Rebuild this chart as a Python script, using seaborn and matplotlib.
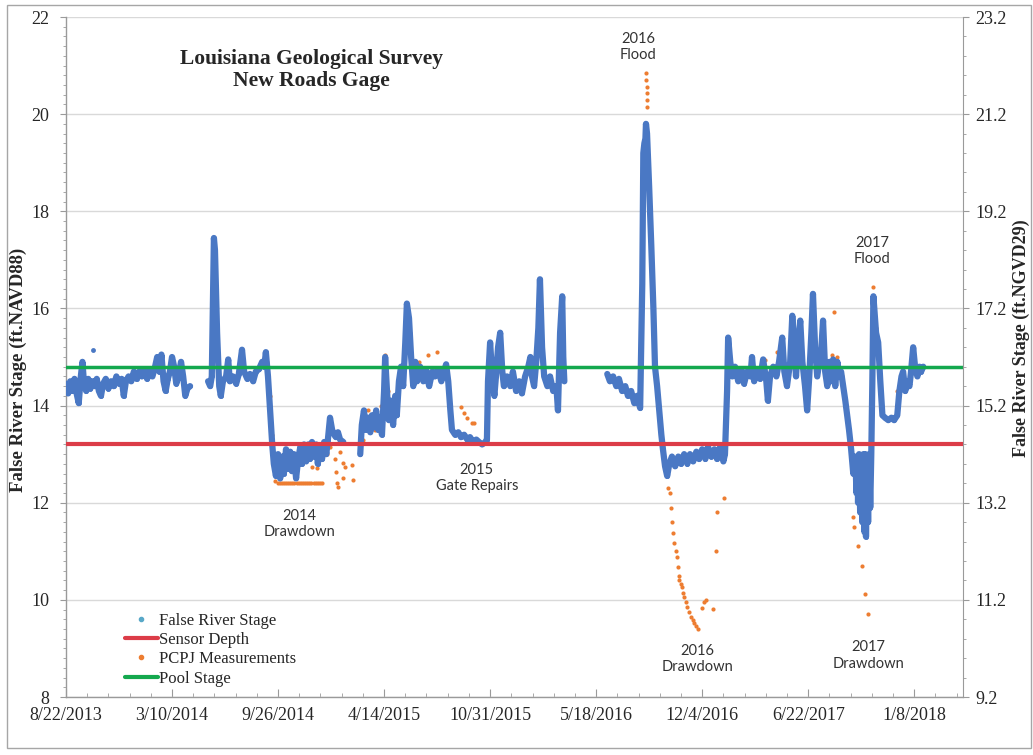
import pandas as pd
import matplotlib
matplotlib.use("Agg")
import matplotlib.pyplot as plt
from matplotlib.lines import Line2D
from matplotlib.patches import Rectangle
from matplotlib.ticker import MultipleLocator, FixedLocator
import seaborn as sns

# ---------------- values ----------------
# False River Stage (ft NAVD88), one list per continuous stretch of record
stage_2013 = [
    ("2013-08-22", 14.45), ("2013-08-26", 14.25), ("2013-08-30", 14.5), ("2013-09-03", 14.3),
    ("2013-09-07", 14.55), ("2013-09-11", 14.25), ("2013-09-15", 14.05), ("2013-09-19", 14.6),
    ("2013-09-22", 14.9), ("2013-09-25", 14.45), ("2013-09-29", 14.3), ("2013-10-03", 14.55),
    ("2013-10-07", 14.35), ("2013-10-11", 14.5), ("2013-10-15", 14.4), ("2013-10-19", 14.55),
    ("2013-10-23", 14.3), ("2013-10-27", 14.2), ("2013-10-31", 14.45), ("2013-11-05", 14.55),
    ("2013-11-10", 14.35), ("2013-11-15", 14.5), ("2013-11-20", 14.4), ("2013-11-25", 14.6),
    ("2013-11-30", 14.45), ("2013-12-05", 14.55), ("2013-12-09", 14.2), ("2013-12-13", 14.5),
    ("2013-12-18", 14.6), ("2013-12-23", 14.5), ("2013-12-28", 14.7), ("2014-01-02", 14.55),
    ("2014-01-07", 14.7), ("2014-01-12", 14.6), ("2014-01-17", 14.75), ("2014-01-22", 14.55),
    ("2014-01-27", 14.7), ("2014-02-01", 14.6), ("2014-02-06", 14.8), ("2014-02-10", 15.0),
    ("2014-02-14", 14.7), ("2014-02-18", 15.05), ("2014-02-22", 14.5), ("2014-02-26", 14.3),
    ("2014-03-02", 14.55), ("2014-03-06", 14.7), ("2014-03-10", 15.0), ("2014-03-14", 14.8),
    ("2014-03-18", 14.45), ("2014-03-22", 14.6), ("2014-03-27", 14.9), ("2014-03-31", 14.6),
    ("2014-04-04", 14.2), ("2014-04-08", 14.35), ("2014-04-13", 14.4),
]
stage_2013_outlier = [("2013-10-12", 15.15)]

stage_2014 = [
    ("2014-05-17", 14.5), ("2014-05-21", 14.4), ("2014-05-24", 14.6), ("2014-05-28", 17.45),
    ("2014-05-30", 17.2), ("2014-06-03", 15.5), ("2014-06-07", 14.4), ("2014-06-10", 14.2),
    ("2014-06-14", 14.5), ("2014-06-20", 14.6), ("2014-06-24", 14.95), ("2014-06-27", 14.5),
    ("2014-07-03", 14.6), ("2014-07-09", 14.45), ("2014-07-14", 14.65), ("2014-07-20", 15.15),
    ("2014-07-24", 14.7), ("2014-07-30", 14.55), ("2014-08-04", 14.65), ("2014-08-10", 14.5),
    ("2014-08-15", 14.7), ("2014-08-21", 14.75), ("2014-08-27", 14.9), ("2014-08-31", 14.8),
    ("2014-09-03", 15.1), ("2014-09-07", 14.6), ("2014-09-11", 13.9), ("2014-09-15", 13.2),
    ("2014-09-18", 12.8), ("2014-09-22", 12.55), ("2014-09-26", 13.0), ("2014-09-30", 12.5),
    ("2014-10-04", 12.95), ("2014-10-07", 12.6), ("2014-10-11", 13.1), ("2014-10-15", 12.7),
    ("2014-10-19", 13.05), ("2014-10-22", 12.65), ("2014-10-26", 13.0), ("2014-10-30", 12.5),
    ("2014-11-03", 12.9), ("2014-11-07", 13.15), ("2014-11-10", 12.8), ("2014-11-14", 13.2),
    ("2014-11-18", 12.85), ("2014-11-22", 13.2), ("2014-11-25", 12.9), ("2014-11-29", 13.25),
    ("2014-12-03", 12.95), ("2014-12-07", 13.2), ("2014-12-10", 12.8), ("2014-12-14", 13.1),
    ("2014-12-18", 12.9), ("2014-12-22", 13.25), ("2014-12-26", 13.0), ("2014-12-29", 13.3),
    ("2015-01-02", 13.75), ("2015-01-06", 13.5), ("2015-01-10", 13.4), ("2015-01-13", 13.35),
    ("2015-01-17", 13.45), ("2015-01-21", 13.3), ("2015-01-27", 13.25),
]

stage_2015 = [
    ("2015-02-28", 13.0), ("2015-03-03", 13.6), ("2015-03-07", 13.9), ("2015-03-11", 13.5),
    ("2015-03-15", 13.75), ("2015-03-19", 13.45), ("2015-03-22", 13.8), ("2015-03-26", 13.55),
    ("2015-03-30", 13.9), ("2015-04-03", 13.5), ("2015-04-06", 13.75), ("2015-04-10", 13.4),
    ("2015-04-14", 14.3), ("2015-04-16", 15.0), ("2015-04-20", 14.2), ("2015-04-23", 13.7),
    ("2015-04-27", 14.1), ("2015-05-01", 13.6), ("2015-05-05", 14.2), ("2015-05-08", 13.8),
    ("2015-05-12", 14.5), ("2015-05-16", 14.8), ("2015-05-20", 14.4), ("2015-05-24", 15.3),
    ("2015-05-27", 16.1), ("2015-05-31", 15.8), ("2015-06-04", 15.0), ("2015-06-08", 14.4),
    ("2015-06-12", 14.9), ("2015-06-15", 14.5), ("2015-06-21", 14.8), ("2015-06-27", 14.5),
    ("2015-07-02", 14.75), ("2015-07-08", 14.4), ("2015-07-14", 14.7), ("2015-07-19", 14.6),
    ("2015-07-25", 14.75), ("2015-07-31", 14.5), ("2015-08-05", 14.7), ("2015-08-09", 14.85),
    ("2015-08-13", 14.5), ("2015-08-17", 13.9), ("2015-08-20", 13.5), ("2015-08-26", 13.4),
    ("2015-09-01", 13.45), ("2015-09-06", 13.35), ("2015-09-12", 13.4), ("2015-09-18", 13.3),
    ("2015-09-23", 13.35), ("2015-09-29", 13.25), ("2015-10-05", 13.3), ("2015-10-10", 13.25),
    ("2015-10-16", 13.2), ("2015-10-22", 13.25), ("2015-10-25", 13.3), ("2015-10-27", 14.5),
    ("2015-10-31", 15.3), ("2015-11-04", 14.6), ("2015-11-08", 14.2), ("2015-11-11", 14.6),
    ("2015-11-15", 15.2), ("2015-11-19", 15.5), ("2015-11-23", 14.7), ("2015-11-26", 14.4),
    ("2015-12-02", 14.6), ("2015-12-08", 14.4), ("2015-12-13", 14.7), ("2015-12-19", 14.3),
    ("2015-12-25", 14.5), ("2015-12-30", 14.25), ("2016-01-05", 14.6), ("2016-01-11", 14.8),
    ("2016-01-15", 15.0), ("2016-01-18", 14.6), ("2016-01-22", 14.4), ("2016-01-26", 14.9),
    ("2016-01-30", 15.6), ("2016-02-02", 16.6), ("2016-02-06", 15.2), ("2016-02-10", 14.6),
    ("2016-02-16", 14.4), ("2016-02-21", 14.6), ("2016-02-27", 14.3), ("2016-03-04", 14.4),
    ("2016-03-07", 13.9), ("2016-03-11", 15.5), ("2016-03-15", 16.25), ("2016-03-17", 15.0),
    ("2016-03-19", 14.5),
]

stage_2016 = [
    ("2016-06-08", 14.65), ("2016-06-13", 14.5), ("2016-06-19", 14.6), ("2016-06-25", 14.4),
    ("2016-06-30", 14.55), ("2016-07-06", 14.3), ("2016-07-12", 14.4), ("2016-07-17", 14.2),
    ("2016-07-23", 14.3), ("2016-07-29", 14.05), ("2016-08-03", 14.2), ("2016-08-09", 13.95),
    ("2016-08-13", 16.5), ("2016-08-15", 19.2), ("2016-08-17", 19.4), ("2016-08-19", 19.5),
    ("2016-08-20", 19.8), ("2016-08-22", 19.6), ("2016-08-26", 18.5), ("2016-08-30", 17.3),
    ("2016-09-03", 16.0), ("2016-09-06", 14.8), ("2016-09-10", 14.4), ("2016-09-14", 13.9),
    ("2016-09-18", 13.4), ("2016-09-21", 13.1), ("2016-09-25", 12.75), ("2016-09-29", 12.55),
    ("2016-10-03", 12.8), ("2016-10-08", 12.95), ("2016-10-14", 12.75), ("2016-10-20", 12.95),
    ("2016-10-25", 12.8), ("2016-10-31", 13.0), ("2016-11-06", 12.8), ("2016-11-11", 13.0),
    ("2016-11-17", 12.85), ("2016-11-23", 13.05), ("2016-11-28", 12.9), ("2016-12-04", 13.1),
    ("2016-12-10", 12.9), ("2016-12-15", 13.15), ("2016-12-21", 12.95), ("2016-12-27", 13.1),
    ("2017-01-01", 12.9), ("2017-01-07", 13.15), ("2017-01-13", 12.85), ("2017-01-16", 13.0),
    ("2017-01-20", 14.3), ("2017-01-22", 15.4), ("2017-01-26", 14.9), ("2017-01-30", 14.6),
    ("2017-02-04", 14.8), ("2017-02-10", 14.5), ("2017-02-16", 14.75), ("2017-02-21", 14.45),
    ("2017-02-27", 14.7), ("2017-03-05", 14.6), ("2017-03-08", 15.0), ("2017-03-12", 14.5),
    ("2017-03-18", 14.7), ("2017-03-23", 14.55), ("2017-03-29", 14.95), ("2017-04-04", 14.5),
    ("2017-04-07", 14.1), ("2017-04-11", 14.6), ("2017-04-17", 14.8), ("2017-04-23", 14.6),
    ("2017-04-28", 14.9), ("2017-05-04", 15.4), ("2017-05-08", 14.7), ("2017-05-13", 14.4),
    ("2017-05-19", 14.9), ("2017-05-23", 15.85), ("2017-05-27", 15.2), ("2017-05-30", 14.6),
    ("2017-06-03", 15.3), ("2017-06-07", 15.75), ("2017-06-11", 14.9), ("2017-06-16", 14.4),
    ("2017-06-20", 13.9), ("2017-06-24", 14.6), ("2017-06-28", 15.5), ("2017-07-01", 16.3),
    ("2017-07-05", 15.2), ("2017-07-09", 14.6), ("2017-07-13", 14.9), ("2017-07-17", 15.2),
    ("2017-07-20", 15.75), ("2017-07-24", 14.7), ("2017-07-28", 14.4), ("2017-08-01", 14.9),
    ("2017-08-04", 14.5), ("2017-08-08", 14.95), ("2017-08-12", 14.4), ("2017-08-16", 14.9),
    ("2017-08-20", 14.6), ("2017-08-23", 14.7), ("2017-08-27", 14.4), ("2017-08-31", 14.1),
    ("2017-09-04", 13.75), ("2017-09-07", 13.5), ("2017-09-11", 13.1), ("2017-09-15", 12.6),
    ("2017-09-19", 12.95), ("2017-09-21", 12.2), ("2017-09-23", 12.9), ("2017-09-24", 12.0),
    ("2017-09-26", 13.0), ("2017-09-28", 11.8), ("2017-09-30", 12.95), ("2017-10-02", 11.6),
    ("2017-10-04", 13.0), ("2017-10-06", 11.4), ("2017-10-08", 13.0), ("2017-10-09", 11.3),
    ("2017-10-11", 12.9), ("2017-10-13", 11.6), ("2017-10-15", 13.0), ("2017-10-17", 11.9),
    ("2017-10-19", 13.0), ("2017-10-21", 14.5), ("2017-10-23", 16.25), ("2017-10-24", 16.1),
    ("2017-10-28", 15.5), ("2017-11-01", 15.3), ("2017-11-05", 14.5), ("2017-11-09", 13.8),
    ("2017-11-14", 13.75), ("2017-11-20", 13.7), ("2017-11-26", 13.75), ("2017-12-01", 13.7),
    ("2017-12-07", 13.8), ("2017-12-11", 14.3), ("2017-12-15", 14.6), ("2017-12-18", 14.7),
    ("2017-12-22", 14.3), ("2017-12-26", 14.5), ("2017-12-30", 14.4), ("2018-01-02", 14.7),
    ("2018-01-06", 15.2), ("2018-01-10", 14.75), ("2018-01-14", 14.6), ("2018-01-18", 14.8),
    ("2018-01-21", 14.7), ("2018-01-25", 14.8),
]

# PCPJ measurements (ft NAVD88)
pcpj_2014 = [
    ("2014-09-05", 14.9), ("2014-09-10", 14.2), ("2014-09-14", 13.4), ("2014-09-18", 12.7),
    ("2014-09-21", 12.45), ("2014-09-25", 12.4), ("2014-09-29", 12.4), ("2014-10-03", 12.4),
    ("2014-10-07", 12.4), ("2014-10-11", 12.4), ("2014-10-15", 12.4), ("2014-10-19", 12.4),
    ("2014-10-23", 12.4), ("2014-10-27", 12.4), ("2014-10-31", 12.4), ("2014-11-04", 12.4),
    ("2014-11-08", 12.4), ("2014-11-12", 12.4), ("2014-11-16", 12.4), ("2014-11-20", 12.4),
    ("2014-11-24", 12.4), ("2014-11-28", 12.4), ("2014-12-02", 12.4), ("2014-12-06", 12.4),
    ("2014-12-10", 12.4), ("2014-12-14", 12.4), ("2014-12-17", 12.4), ("2014-11-29", 12.74),
    ("2014-12-09", 12.72), ("2014-12-27", 13.0), ("2015-01-02", 13.15), ("2015-01-12", 12.9),
    ("2015-01-13", 12.63), ("2015-01-15", 12.4), ("2015-01-17", 12.33), ("2015-01-21", 13.05),
    ("2015-01-27", 12.82), ("2015-01-30", 12.74), ("2015-01-27", 12.5), ("2015-02-13", 12.78),
    ("2015-02-15", 12.47),
]
pcpj_2015 = [
    ("2015-03-05", 13.3), ("2015-03-15", 13.9), ("2015-03-28", 13.5), ("2015-04-08", 14.0),
    ("2015-04-16", 15.05), ("2015-04-22", 14.3), ("2015-05-02", 13.8), ("2015-05-14", 14.4),
    ("2015-05-25", 15.9), ("2015-05-28", 16.1), ("2015-06-02", 15.5), ("2015-06-18", 14.9),
    ("2015-07-06", 15.05), ("2015-07-22", 15.1), ("2015-09-06", 13.97), ("2015-09-12", 13.85),
    ("2015-09-18", 13.75), ("2015-09-27", 13.64), ("2015-10-01", 13.64),
]
pcpj_2016 = [
    ("2016-08-20", 20.85), ("2016-08-20", 20.7), ("2016-08-21", 20.56), ("2016-08-21", 20.43),
    ("2016-08-22", 20.29), ("2016-08-22", 20.15), ("2016-08-26", 18.3), ("2016-08-30", 17.1),
    ("2016-09-30", 12.3), ("2016-10-04", 12.2), ("2016-10-06", 11.9), ("2016-10-08", 11.6),
    ("2016-10-10", 11.37), ("2016-10-12", 11.17), ("2016-10-15", 11.0), ("2016-10-18", 10.88),
    ("2016-10-19", 10.68), ("2016-10-21", 10.5), ("2016-10-22", 10.4), ("2016-10-25", 10.33),
    ("2016-10-27", 10.27), ("2016-10-29", 10.15), ("2016-10-31", 10.06), ("2016-11-03", 9.95),
    ("2016-11-06", 9.85), ("2016-11-10", 9.75), ("2016-11-13", 9.65), ("2016-11-16", 9.58),
    ("2016-11-19", 9.52), ("2016-11-22", 9.46), ("2016-11-26", 9.4), ("2016-12-04", 9.83),
    ("2016-12-08", 9.95), ("2016-12-12", 10.0), ("2016-12-25", 9.81), ("2016-12-31", 11.0),
    ("2017-01-01", 11.8), ("2017-01-15", 12.1),
]
pcpj_2017 = [
    ("2017-04-01", 14.94), ("2017-04-25", 15.1), ("2017-05-06", 15.0), ("2017-08-05", 15.04),
    ("2017-08-09", 15.93), ("2017-08-15", 15.0), ("2017-08-24", 14.6), ("2017-09-15", 11.7),
    ("2017-09-17", 11.5), ("2017-09-23", 11.1), ("2017-10-02", 10.7), ("2017-10-08", 10.12),
    ("2017-10-13", 9.7), ("2017-10-22", 16.45), ("2017-10-23", 16.2), ("2017-10-24", 16.0),
    ("2017-10-28", 15.6), ("2017-12-07", 14.3),
]

SENSOR_DEPTH = 13.2
POOL_STAGE = 14.8

x_tick_labels = ["8/22/2013", "3/10/2014", "9/26/2014", "4/14/2015", "10/31/2015",
                 "5/18/2016", "12/4/2016", "6/22/2017", "1/8/2018"]
left_ticks = [8, 10, 12, 14, 16, 18, 20, 22]
right_ticks = [9.2, 11.2, 13.2, 15.2, 17.2, 19.2, 21.2, 23.2]

annotations = [
    ("2014\nDrawdown", "2014-11-05", 11.56),
    ("2015\nGate Repairs", "2015-10-06", 12.51),
    ("2016\nFlood", "2016-08-05", 21.38),
    ("2017\nFlood", "2017-10-21", 17.18),
    ("2016\nDrawdown", "2016-11-25", 8.78),
    ("2017\nDrawdown", "2017-10-13", 8.86),
]

BLUE = "#4a78c4"
ORANGE = "#ed7d31"
RED = "#dc3c48"
GREEN = "#14a84e"
GRID = "#d9d9d9"
AXIS = "#9a9a9a"


def to_frame(segments, value_name):
    rows = []
    for i, seg in enumerate(segments):
        for d, v in seg:
            rows.append({"date": pd.Timestamp(d), value_name: v, "segment": i})
    return pd.DataFrame(rows)


stage = to_frame([stage_2013, stage_2013_outlier, stage_2014, stage_2015, stage_2016], "stage")
pcpj = to_frame([pcpj_2014, pcpj_2015, pcpj_2016, pcpj_2017], "stage")

# ---------------- plot ----------------
sns.set_style("white")
plt.rcParams["font.family"] = ["Liberation Serif", "DejaVu Serif"]

fig = plt.figure(figsize=(10.33, 7.55), dpi=100)
ax = fig.add_axes([66 / 1033, 1 - 697 / 755, 897 / 1033, 680 / 755])

sns.scatterplot(data=pcpj, x="date", y="stage", color=ORANGE, s=9, linewidth=0,
                ax=ax, zorder=2, legend=False)
sns.lineplot(data=stage, x="date", y="stage", units="segment", estimator=None, sort=False,
             color=BLUE, lw=4.5, marker="o", markersize=3.5, markeredgewidth=0,
             ax=ax, zorder=3, legend=False)
ax.axhline(SENSOR_DEPTH, color=RED, lw=3, zorder=4)
ax.axhline(POOL_STAGE, color=GREEN, lw=2.5, zorder=4)

xmin, xmax = pd.Timestamp("2013-08-22"), pd.Timestamp("2018-04-10")
ax.set_xlim(xmin, xmax)
ax.set_ylim(8, 22)

xt = pd.to_datetime(x_tick_labels, format="%m/%d/%Y")
ax.set_xticks(xt)
ax.set_xticklabels(x_tick_labels, fontsize=13)
ax.xaxis.set_minor_locator(FixedLocator(
    matplotlib.dates.date2num(pd.date_range(xmin, xmax, freq="40D"))))
ax.set_yticks(left_ticks)
ax.set_yticklabels([str(t) for t in left_ticks], fontsize=13)
ax.yaxis.set_minor_locator(MultipleLocator(0.2))

ax.grid(axis="y", which="major", color=GRID, lw=1)
ax.grid(axis="x", visible=False)
ax.set_axisbelow(True)
ax.tick_params(axis="x", which="major", direction="in", length=6, color=AXIS, pad=7, bottom=True)
ax.tick_params(axis="x", which="minor", direction="in", length=3, color=AXIS, bottom=True)
ax.tick_params(axis="y", which="major", direction="out", length=4, color=AXIS, pad=8, left=True)
ax.tick_params(axis="y", which="minor", direction="out", length=2, color=AXIS, left=True)
for side in ["left", "bottom"]:
    ax.spines[side].set_color(AXIS)
    ax.spines[side].set_linewidth(1)
ax.spines["top"].set_visible(False)
ax.spines["right"].set_visible(False)

ax.set_xlabel("")
ax.set_ylabel("False River Stage (ft.NAVD88)", fontsize=13.5, fontweight="bold")
ax.yaxis.set_label_coords(-0.043, 0.481)

ax2 = ax.twinx()
ax2.set_ylim(9.2, 23.2)
ax2.set_yticks(right_ticks)
ax2.set_yticklabels([f"{t:.1f}" for t in right_ticks], fontsize=13)
ax2.yaxis.set_minor_locator(MultipleLocator(0.4))
ax2.tick_params(axis="y", which="major", direction="out", length=4, color=AXIS, pad=5, right=True)
ax2.tick_params(axis="y", which="minor", direction="out", length=2, color=AXIS, right=True)
for side in ["left", "top", "bottom"]:
    ax2.spines[side].set_visible(False)
ax2.spines["right"].set_color(AXIS)
ax2.set_ylabel("False River Stage (ft.NGVD29)", fontsize=13, fontweight="bold",
               rotation=90)
ax2.yaxis.set_label_coords(1.055, 0.528)
ax2.grid(False)

ax.text(0.274, 0.922, "Louisiana Geological Survey\nNew Roads Gage", transform=ax.transAxes,
        ha="center", va="center", fontsize=15.5, fontweight="bold", linespacing=1.15)

for label, d, y in annotations:
    ax.text(pd.Timestamp(d), y, label, ha="center", va="center", fontsize=10.5,
            family=["Lato", "DejaVu Sans"], color="#333333", linespacing=1.25, zorder=5)

handles = [
    Line2D([], [], ls="none", marker="o", markersize=3, color="#58a8c8"),
    Line2D([], [], color=RED, lw=3),
    Line2D([], [], ls="none", marker="o", markersize=3, color=ORANGE),
    Line2D([], [], color=GREEN, lw=3),
]
labels = ["False River Stage", "Sensor Depth", "PCPJ Measurements", "Pool Stage"]
ax.legend(handles, labels, loc="upper left", bbox_to_anchor=(0.058, 0.134), frameon=False,
          fontsize=12, handlelength=2.0, handletextpad=0.05, labelspacing=0.2, borderaxespad=0)

fig.patches.append(Rectangle((7 / 1033, 7 / 755), 1024 / 1033, 743 / 755, transform=fig.transFigure,
                             fill=False, edgecolor="#a6a6a6", lw=1))

fig.savefig("out.png", dpi=100)
